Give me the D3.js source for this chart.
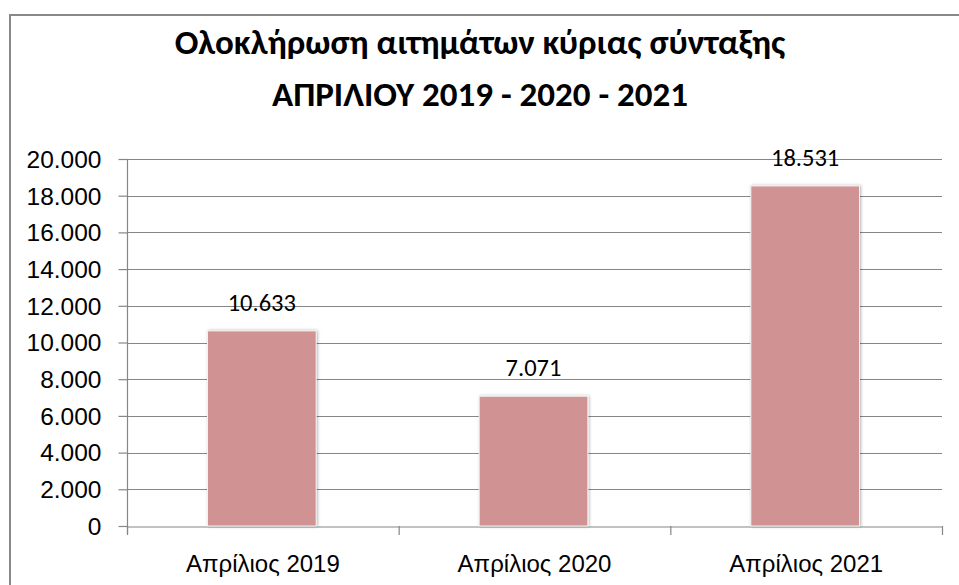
<!DOCTYPE html>
<html>
<head>
<meta charset="utf-8">
<script src="https://cdn.jsdelivr.net/npm/d3@7"></script>
<style>
  html, body { margin: 0; padding: 0; background: #fff; }
  svg { display: block; font-family: Carlito, "Open Sans", "Noto Sans", sans-serif; }
</style>
</head>
<body>
<svg id="chart" width="959" height="585"></svg>
<script>
const categories = ["Απρίλιος 2019", "Απρίλιος 2020", "Απρίλιος 2021"];
const values = [10633, 7071, 18531];
const yTicks = [0, 2000, 4000, 6000, 8000, 10000, 12000, 14000, 16000, 18000, 20000];
const titleLines = ["Ολοκλήρωση αιτημάτων κύριας σύνταξης", "ΑΠΡΙΛΙΟΥ 2019 - 2020 - 2021"];

const svg = d3.select("#chart");
const W = 959, H = 585;
const m = { left: 127, right: 942, top: 159, bottom: 526 };

const fmt = v => d3.format(",")(v).replace(/,/g, ".");

// outer frame
svg.append("rect")
  .attr("x", 10).attr("y", 15).attr("width", W + 20).attr("height", H + 20)
  .attr("fill", "#fff").attr("stroke", "#888").attr("stroke-width", 2);

const x = d3.scaleBand().domain(categories).range([m.left, m.right]).paddingInner(0).paddingOuter(0);
const y = d3.scaleLinear().domain([0, 20000]).range([m.bottom, m.top]);

// gridlines
svg.append("g").selectAll("line").data(yTicks.filter(d => d > 0)).join("line")
  .attr("x1", m.left).attr("x2", m.right)
  .attr("y1", d => Math.round(y(d)) + 0.5).attr("y2", d => Math.round(y(d)) + 0.5)
  .attr("stroke", "#868686").attr("stroke-width", 1.2);

// y axis
const yAxis = svg.append("g").attr("transform", `translate(${m.left + 0.5},0)`)
  .call(d3.axisLeft(y).tickValues(yTicks).tickFormat(fmt).tickSize(9).tickPadding(17));
yAxis.select(".domain").attr("stroke", "#868686").attr("stroke-width", 1.2)
  .attr("d", `M0,${m.top}V${m.bottom + 8}`);
yAxis.selectAll(".tick line").attr("stroke", "#868686").attr("stroke-width", 1.2);
yAxis.selectAll(".tick text").attr("font-size", 24.5).attr("fill", "#000").attr("font-family", null).attr("dy", "0.34em");

// x axis
const xAxis = svg.append("g").attr("transform", `translate(0,${Math.round(y(0)) + 0.5})`)
  .call(d3.axisBottom(x).tickSize(0).tickPadding(28));
xAxis.select(".domain").attr("stroke", "#868686").attr("stroke-width", 1.2);
xAxis.selectAll(".tick text").attr("font-size", 24).attr("fill", "#000").attr("font-family", null);
// category boundary ticks
const bounds = [m.left, ...categories.map(c => x(c) + x.bandwidth())];
svg.append("g").selectAll("line").data(bounds).join("line")
  .attr("x1", d => d + 0.5).attr("x2", d => d + 0.5)
  .attr("y1", Math.round(y(0))).attr("y2", Math.round(y(0)) + 9)
  .attr("stroke", "#868686").attr("stroke-width", 1.2);

// bar shadow filter
const defs = svg.append("defs");
const f = defs.append("filter").attr("id", "sh").attr("x", "-10%").attr("y", "-10%").attr("width", "120%").attr("height", "120%");
f.append("feDropShadow").attr("dx", 1).attr("dy", 0).attr("stdDeviation", 1.5).attr("flood-color", "#000").attr("flood-opacity", 0.3);

const barW = x.bandwidth() / 2.5;
svg.append("g").selectAll("rect").data(values).join("rect")
  .attr("x", (d, i) => x(categories[i]) + (x.bandwidth() - barW) / 2 - 1)
  .attr("y", d => y(d))
  .attr("width", barW)
  .attr("height", d => y(0) - y(d))
  .attr("fill", "#d09293")
  .attr("stroke", "#f2f2f2").attr("stroke-width", 1)
  .attr("filter", "url(#sh)");

// value labels
svg.append("g").selectAll("text").data(values).join("text")
  .attr("x", (d, i) => x(categories[i]) + x.bandwidth() / 2 - 1)
  .attr("y", d => y(d) - 20)
  .attr("text-anchor", "middle")
  .attr("font-size", 24.5)
  .attr("fill", "#000")
  .text(fmt);

// title
svg.append("g").selectAll("text").data(titleLines).join("text")
  .attr("x", 480)
  .attr("y", (d, i) => 54 + i * 52)
  .attr("text-anchor", "middle")
  .attr("font-size", 35)
  .attr("font-weight", "bold")
  .attr("fill", "#000")
  .text(d => d);
</script>
</body>
</html>
